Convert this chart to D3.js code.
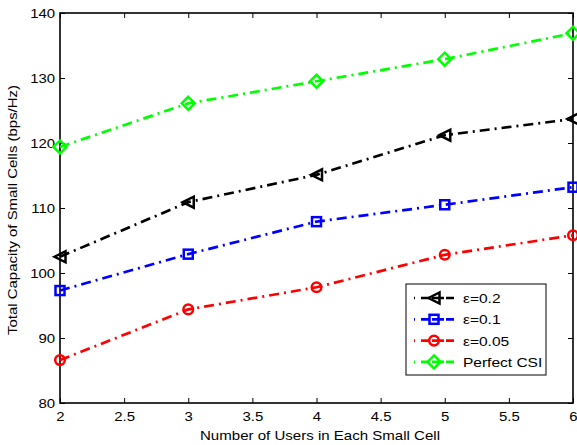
<!DOCTYPE html>
<html><head><meta charset="utf-8">
<script src="https://d3js.org/d3.v7.min.js"></script>
<style>body{margin:0;background:#fff}svg{display:block}text{font-family:"Liberation Sans",Arial,sans-serif;fill:#000}</style>
</head><body><svg id="c" width="577" height="445"></svg>
<script>
const users = [2, 3, 4, 5, 6];
const eps02 = [102.5, 110.9, 115.1, 121.2, 123.7];
const eps01 = [97.3, 102.9, 107.9, 110.5, 113.2];
const eps005 = [86.6, 94.4, 97.8, 102.8, 105.8];
const perfect = [119.4, 126.1, 129.5, 132.9, 136.9];
const seriesNames = ["\u03b5=0.2", "\u03b5=0.1", "\u03b5=0.05", "Perfect CSI"];
const xTicks = [2, 2.5, 3, 3.5, 4, 4.5, 5, 5.5, 6];
const yTicks = [80, 90, 100, 110, 120, 130, 140];

const series = [
  {name: seriesNames[0], vals: eps02, color: "#000000", marker: "tri"},
  {name: seriesNames[1], vals: eps01, color: "#0000ff", marker: "sq"},
  {name: seriesNames[2], vals: eps005, color: "#ff0000", marker: "circ"},
  {name: seriesNames[3], vals: perfect, color: "#00ff00", marker: "dia"}
];

const L = 60, R = 573, T = 13, B = 403;
const SX = 1.15;
const svg = d3.select("#c");
const x = d3.scaleLinear().domain([2, 6]).range([L, R]);
const y = d3.scaleLinear().domain([80, 140]).range([B, T]);

const fmt = d => String(d);
svg.append("g").attr("transform", `translate(0,${B})`)
  .call(d3.axisBottom(x).tickValues(xTicks).tickFormat(fmt).tickSizeInner(-5).tickSizeOuter(0).tickPadding(9))
  .call(g => { g.select(".domain").remove();
    g.selectAll("text").attr("font-size", 13).attr("font-family", "Liberation Sans, Arial, sans-serif")
      .attr("dy", null).attr("y", 18.5).attr("transform", `scale(${SX},1)`); });
svg.append("g").attr("transform", `translate(0,${T})`)
  .call(d3.axisTop(x).tickValues(xTicks).tickFormat("").tickSizeInner(-5).tickSizeOuter(0))
  .call(g => g.select(".domain").remove());
svg.append("g").attr("transform", `translate(${L},0)`)
  .call(d3.axisLeft(y).tickValues(yTicks).tickFormat(fmt).tickSizeInner(-5).tickSizeOuter(0))
  .call(g => { g.select(".domain").remove();
    g.selectAll("text").attr("font-size", 13).attr("font-family", "Liberation Sans, Arial, sans-serif")
      .attr("x", -4.3).attr("transform", `scale(${SX},1)`); });
svg.append("g").attr("transform", `translate(${R},0)`)
  .call(d3.axisRight(y).tickValues(yTicks).tickFormat("").tickSizeInner(-5).tickSizeOuter(0))
  .call(g => g.select(".domain").remove());
svg.selectAll(".tick line").attr("stroke", "#000").attr("stroke-width", 1);
svg.append("rect").attr("x", L).attr("y", T).attr("width", R - L).attr("height", B - T)
  .attr("fill", "none").attr("stroke", "#000").attr("stroke-width", 1.6);

svg.append("text").attr("x", 320).attr("y", 440).attr("text-anchor", "middle")
  .attr("font-size", 13.5).attr("textLength", 240).attr("lengthAdjust", "spacingAndGlyphs")
  .text("Number of Users in Each Small Cell");
svg.append("text").attr("transform", `translate(17,210) rotate(-90)`).attr("text-anchor", "middle")
  .attr("font-size", 13.5).attr("textLength", 250).attr("lengthAdjust", "spacingAndGlyphs")
  .text("Total Capacity of Small Cells (bps/Hz)");

const dash = "10,5,2,5";
function marker(g, m, cx, cy, color) {
  const s = 5.5;
  let el;
  if (m === "tri") el = g.append("path").attr("d", `M${cx - s},${cy} L${cx + s},${cy - s} L${cx + s},${cy + s} Z`);
  else if (m === "sq") el = g.append("rect").attr("x", cx - 4.5).attr("y", cy - 4.5).attr("width", 9).attr("height", 9);
  else if (m === "circ") el = g.append("circle").attr("cx", cx).attr("cy", cy).attr("r", 4.8);
  else el = g.append("path").attr("d", `M${cx},${cy - 6.5} L${cx + 6.5},${cy} L${cx},${cy + 6.5} L${cx - 6.5},${cy} Z`);
  el.attr("fill", "none").attr("stroke", color).attr("stroke-width", 2.5);
}

const line = d3.line().x((d, i) => x(users[i])).y(d => y(d));
series.forEach(s => {
  const g = svg.append("g");
  g.append("path").attr("d", line(s.vals)).attr("fill", "none").attr("stroke", s.color)
    .attr("stroke-width", 2.7).attr("stroke-dasharray", dash);
  s.vals.forEach((v, i) => marker(g, s.marker, x(users[i]), y(v), s.color));
});

// legend
const lg = svg.append("g");
lg.append("rect").attr("x", 406).attr("y", 284).attr("width", 140).attr("height", 91)
  .attr("fill", "#fff").attr("stroke", "#000").attr("stroke-width", 1);
series.forEach((s, i) => {
  const cy = 298 + i * 21.3;
  lg.append("line").attr("x1", 414).attr("x2", 454).attr("y1", cy).attr("y2", cy)
    .attr("stroke", s.color).attr("stroke-width", 2.7).attr("stroke-dasharray", "1,6,9,2,12,2,9");
  marker(lg, s.marker, 434, cy, s.color);
  lg.append("text").attr("x", 463 / SX).attr("y", cy + 5).attr("font-size", 13.5)
    .attr("transform", `scale(${SX},1)`).text(s.name);
});
</script></body></html>
